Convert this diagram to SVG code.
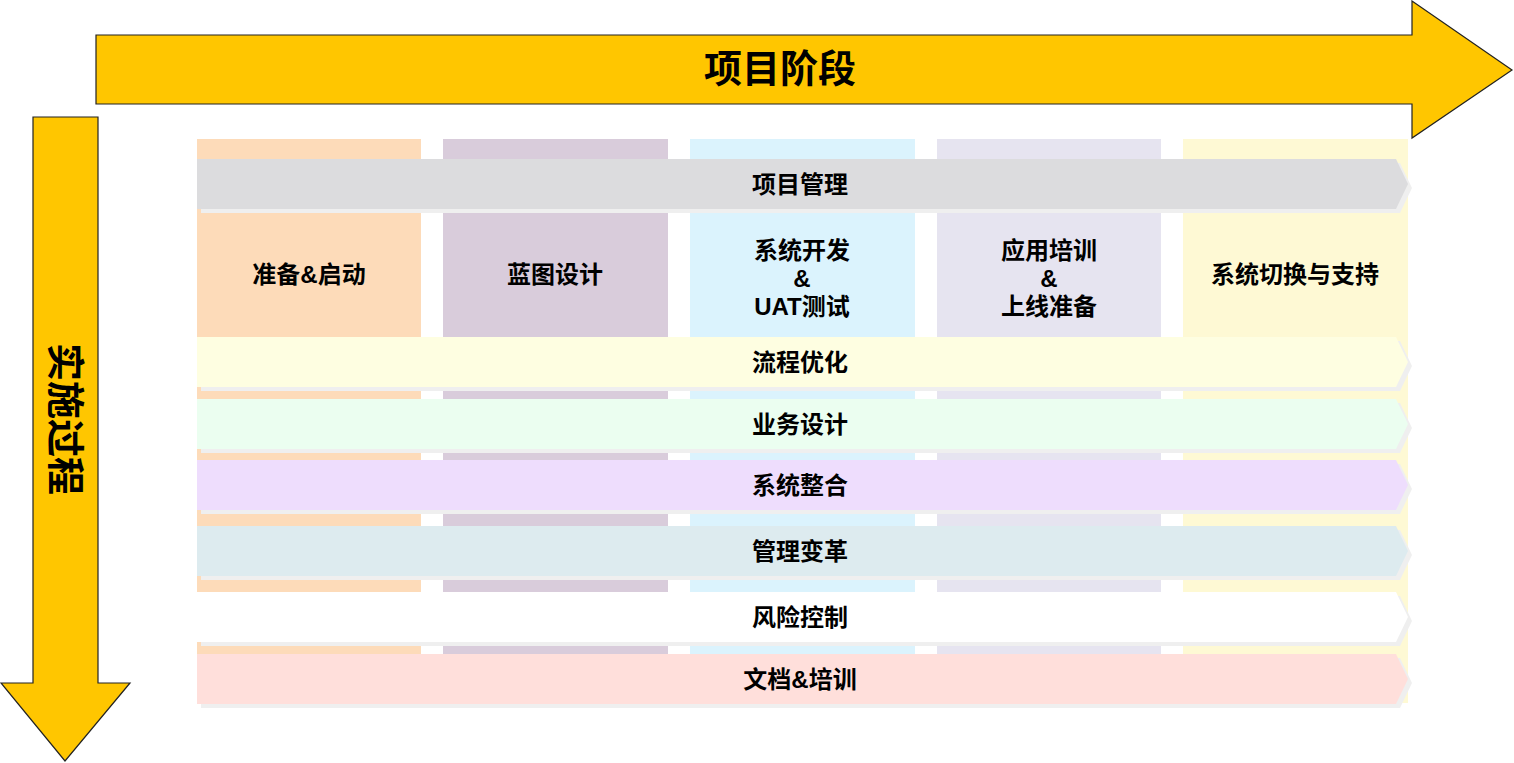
<svg xmlns="http://www.w3.org/2000/svg" width="1514" height="763" viewBox="0 0 1514 763">
<style>
.big{fill:#FFC600;stroke:#222;stroke-width:1.2}
.t{font-family:"Liberation Sans","Noto Sans CJK SC",sans-serif;font-weight:700;fill:#000;text-anchor:middle;dominant-baseline:central}
.h{font-size:24px}
.r{font-size:24px}
.sh{fill:#EFEFEF}
</style>
<defs>
<path id="row" d="M0,0 H1199 L1211,25 L1199,50 H0 Z"/>
</defs>
<rect width="1514" height="763" fill="#fff"/>
<g id="phase-arrow">
<path class="big" d="M96,35 H1412 V1 L1512,70 L1412,138 V104 H96 Z"/>
<text class="t" x="780" y="69" style="font-size:38px">项目阶段</text>
</g>
<g id="process-arrow">
<path class="big" d="M33,117 H98 V683 H130 L65,761 L1,683 H33 Z"/>
<text class="t" transform="translate(65,419) rotate(90)" style="font-size:38px">实施过程</text>
</g>
<g id="columns">
<rect x="197" y="139" width="224" height="564" fill="#FDDBB9"/>
<rect x="443" y="139" width="225" height="564" fill="#D9CCDB"/>
<rect x="690" y="139" width="225" height="564" fill="#DBF3FD"/>
<rect x="937" y="139" width="224" height="564" fill="#E6E4F0"/>
<rect x="1183" y="139" width="225" height="564" fill="#FEF9D4"/>
</g>
<g id="col-prep"><text class="t h" x="309" y="274">准备&amp;启动</text></g>
<g id="col-blueprint"><text class="t h" x="555" y="274">蓝图设计</text></g>
<g id="col-dev"><text class="t h" x="802" y="250">系统开发</text><text class="t h" x="802" y="278">&amp;</text><text class="t h" x="802" y="306">UAT测试</text></g>
<g id="col-train"><text class="t h" x="1049" y="250">应用培训</text><text class="t h" x="1049" y="278">&amp;</text><text class="t h" x="1049" y="306">上线准备</text></g>
<g id="col-cutover"><text class="t h" x="1295" y="274">系统切换与支持</text></g>
<g id="row-pm">
<use href="#row" class="sh" x="201" y="163"/>
<use href="#row" x="197" y="159" fill="#DCDCDE"/>
<text class="t r" x="800" y="184">项目管理</text>
</g>
<g id="row-process">
<use href="#row" class="sh" x="201" y="341"/>
<use href="#row" x="197" y="337" fill="#FEFEE1"/>
<text class="t r" x="800" y="362">流程优化</text>
</g>
<g id="row-business">
<use href="#row" class="sh" x="201" y="403"/>
<use href="#row" x="197" y="399" fill="#EBFEF0"/>
<text class="t r" x="800" y="424">业务设计</text>
</g>
<g id="row-integration">
<use href="#row" class="sh" x="201" y="464"/>
<use href="#row" x="197" y="460" fill="#EEDDFD"/>
<text class="t r" x="800" y="485">系统整合</text>
</g>
<g id="row-change">
<use href="#row" class="sh" x="201" y="530"/>
<use href="#row" x="197" y="526" fill="#DDEBEF"/>
<text class="t r" x="800" y="551">管理变革</text>
</g>
<g id="row-risk">
<use href="#row" class="sh" x="201" y="596"/>
<use href="#row" x="197" y="592" fill="#FFFFFF"/>
<text class="t r" x="800" y="617">风险控制</text>
</g>
<g id="row-doc">
<use href="#row" class="sh" x="201" y="658"/>
<use href="#row" x="197" y="654" fill="#FFDFDB"/>
<text class="t r" x="800" y="679">文档&amp;培训</text>
</g>
<g id="connectors"></g>
</svg>
